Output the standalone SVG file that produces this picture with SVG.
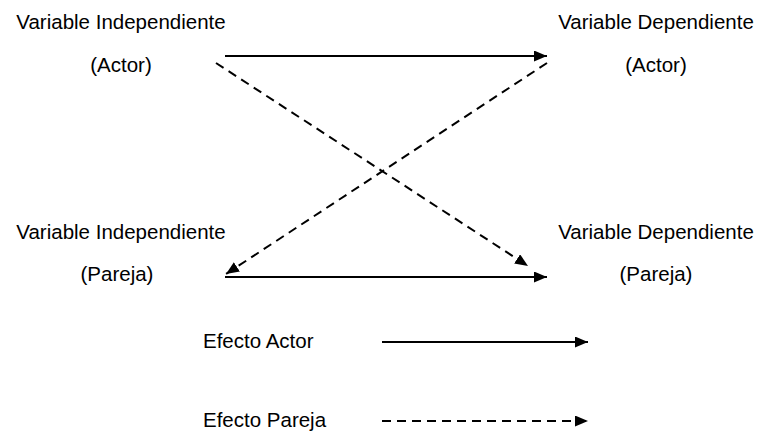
<svg xmlns="http://www.w3.org/2000/svg" width="760" height="432" viewBox="0 0 760 432">
  <defs>
    <marker id="head" markerUnits="userSpaceOnUse" markerWidth="14" markerHeight="12" refX="13" refY="5.5" orient="auto">
      <path d="M0,0 L13,5.5 L0,11 Z" fill="#000"/>
    </marker>
    <style>
      text { font-family: "Liberation Sans", Arial, sans-serif; font-size: 20.5px; fill: #000; }
      .mid { text-anchor: middle; }
      .solid { stroke: #000; stroke-width: 2; fill: none; marker-end: url(#head); }
      .dash { stroke: #000; stroke-width: 2; fill: none; stroke-dasharray: 9 6; marker-end: url(#head); }
    </style>
  </defs>
  <rect width="760" height="432" fill="#fff"/>

  <g id="vi-actor">
    <text class="mid" x="121" y="29">Variable Independiente</text>
    <text class="mid" x="121" y="72">(Actor)</text>
  </g>
  <g id="vd-actor">
    <text class="mid" x="656" y="29">Variable Dependiente</text>
    <text class="mid" x="656" y="72">(Actor)</text>
  </g>
  <g id="vi-pareja">
    <text class="mid" x="121" y="239">Variable Independiente</text>
    <text class="mid" x="117" y="281">(Pareja)</text>
  </g>
  <g id="vd-pareja">
    <text class="mid" x="656" y="239">Variable Dependiente</text>
    <text class="mid" x="656" y="281">(Pareja)</text>
  </g>

  <g id="connectors">
    <line class="solid" x1="225" y1="56" x2="547" y2="56"/>
    <line class="solid" x1="225" y1="277" x2="547" y2="277"/>
    <line class="dash" x1="216" y1="63" x2="528" y2="266"/>
    <line class="dash" x1="547" y1="63" x2="226" y2="274"/>
  </g>

  <g id="legend">
    <text x="203" y="348">Efecto Actor</text>
    <line class="solid" x1="382" y1="342" x2="588" y2="342"/>
    <text x="203" y="427">Efecto Pareja</text>
    <line class="dash" x1="382" y1="421" x2="588" y2="421"/>
  </g>
</svg>
